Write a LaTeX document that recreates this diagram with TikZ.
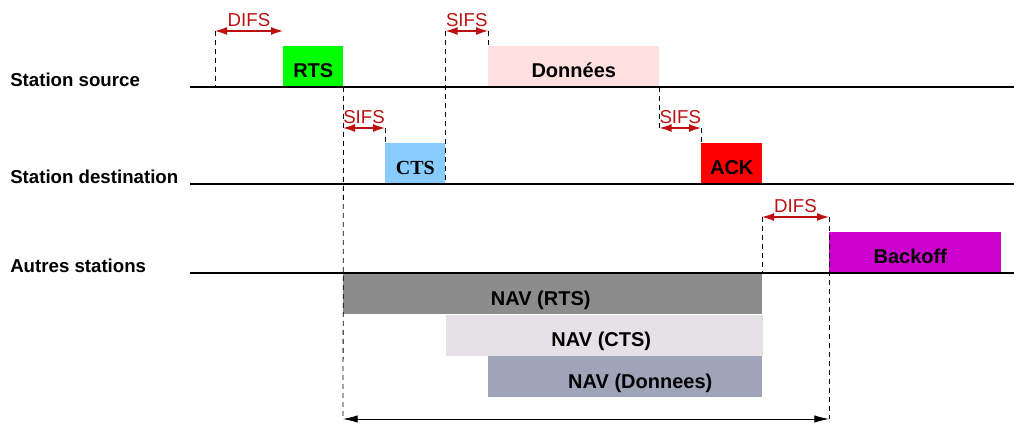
\documentclass[tikz,border=0pt]{standalone}
\usepackage{fontspec}
\setmainfont{Liberation Sans}
\newfontfamily\ctsfont{Liberation Serif}
\usetikzlibrary{arrows.meta}
\usetikzlibrary{positioning}
\definecolor{gapred}{RGB}{190,16,16}
\definecolor{rtsgreen}{RGB}{0,255,0}
\definecolor{datapink}{RGB}{255,224,224}
\definecolor{ctsblue}{RGB}{136,204,255}
\definecolor{ackred}{RGB}{255,0,0}
\definecolor{backoffmag}{RGB}{204,0,204}
\definecolor{navgray}{RGB}{140,140,140}
\definecolor{navlight}{RGB}{230,225,230}
\definecolor{navblue}{RGB}{160,164,184}
\tikzset{x=0.75pt, y=-0.75pt, % one unit is one pixel of the drawing
station/.style={ % Names of the stations, on the left
anchor=base west,
inner sep=0pt,
font=\bfseries\fontsize{14}{14}\selectfont},
timeline/.style={ % One line per station
draw,
line width=1.1pt},
frame/.style={ % Sets the properties for each frame on a time line
anchor=south west,
inner sep=0pt,
minimum height=30.75pt,
text height=17pt, % Puts the label low in the box
text depth=0pt,
font=\bfseries\fontsize{15}{15}\selectfont},
nav/.style={ % NAV boxes hang below the other stations
frame,
anchor=north west},
nudge/.style={ % Moves the label sideways by half of #1
execute at begin node={\hspace*{#1}}},
guide/.style={ % Dashed time marks
draw,
line width=0.6pt,
dash pattern=on 3.75pt off 3pt},
gap/.style={ % DIFS and SIFS intervals
draw=gapred,
<->,>={Latex[length=9pt,width=6pt]},
line width=0.9pt},
gaplabel/.style={
above,
inner sep=3pt,
text=gapred,
font=\fontsize{14}{14}\selectfont},
span/.style={
draw,
<->,>={Latex[length=11pt,width=5.5pt]},
line width=0.6pt}}

\begin{document}
\begin{tikzpicture}
				\useasboundingbox (0,0) rectangle (1014,423);

				% stations
				\node[station] (srcname) at (10,87) {Station source};
				\node[station] (dstname) at (10,184) {Station destination};
				\node[station] (othname) at (10,273) {Autres stations};
				\coordinate (src) at (190,87);
				\coordinate (srcend) at (1014,87);
				\coordinate (dst) at (190,184);
				\coordinate (dstend) at (1014,184);
				\coordinate (oth) at (190,273);
				\coordinate (othend) at (1014,273);

				% frames
				\node[frame, fill=rtsgreen, minimum width=45pt] (rts) at (283,87) {RTS};
				\node[frame, fill=datapink, minimum width=128.25pt] (data) at (488,87) {Données};
				\node[frame, fill=ctsblue, minimum width=45pt, font=\ctsfont\bfseries\fontsize{15}{15}\selectfont] (cts) at (385,184) {CTS};
				\node[frame, fill=ackred, minimum width=45.75pt] (ack) at (701,184) {ACK};
				\node[frame, fill=backoffmag, minimum width=129pt, nudge=-7.5pt] (backoff) at (829,273) {Backoff};
				\node[nav, fill=navgray, minimum width=314.25pt, nudge=-18pt] (navrts) at (343,273) {NAV (RTS)};
				\node[nav, fill=navlight, minimum width=237.75pt, nudge=-4.5pt] (navcts) at (navrts.south -| cts.east) {NAV (CTS)};
				\node[nav, fill=navblue, minimum width=205.5pt, nudge=22.5pt] (navdata) at (navcts.south -| data.west) {NAV (Donnees)};

				\draw[timeline] (src) -- (srcend);
				\draw[timeline] (dst) -- (dstend);
				\draw[timeline] (oth) -- (othend);

				% intervals
				\coordinate (difsA) at (215,31);
				\coordinate (sifsA) at (cts.east |- difsA);
				\coordinate (sifsB) at (343,128);
				\coordinate (sifsC) at (data.south east |- sifsB);
				\coordinate (difsB) at (762,217);
				\coordinate (spanL) at (343,419);
				\coordinate (spanR) at (829,419);

				\draw[guide] (difsA) -- (difsA |- src);
				\draw[gap] (difsA) -- node[gaplabel] {DIFS} (difsA -| rts.west);

				\draw[guide] (sifsA) -- (cts.south east);
				\draw[guide] (sifsA -| data.west) -- (data.north west);
				\draw[gap] (sifsA) -- node[gaplabel] {SIFS} (sifsA -| data.west);

				\draw[guide] (rts.south east) -- (spanL);
				\draw[guide] (sifsB -| cts.west) -- (cts.north west);
				\draw[gap] (sifsB) -- node[gaplabel] {SIFS} (sifsB -| cts.west);

				\draw[guide] (data.south east) -- (sifsC);
				\draw[guide] (sifsC -| ack.west) -- (ack.north west);
				\draw[gap] (sifsC) -- node[gaplabel] {SIFS} (sifsC -| ack.west);

				\draw[guide] (difsB) -- (difsB |- oth);
				\draw[guide] (difsB -| backoff.west) -- (spanR);
				\draw[gap] (difsB) -- node[gaplabel] {DIFS} (difsB -| backoff.west);

				\draw[span] (spanL) -- (spanR);
			\end{tikzpicture}
\end{document}
